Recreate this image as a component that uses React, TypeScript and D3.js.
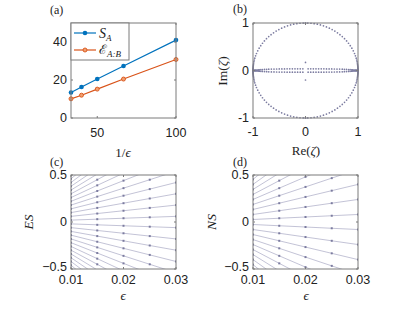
import React from "react";
import * as d3 from "d3";

// ---------- data ----------
const invEps = [33.33, 40, 50, 66.67, 100];
const sA = [13.4, 16.3, 20.5, 27.4, 41.0];
const eAB = [10.1, 12.0, 15.2, 20.5, 30.8];
const aXTicks = [50, 100];
const aYTicks = [0, 20, 40];

// (b) spectrum: unit-circle angles (deg, upper half; lower half mirrored)
const circleAngles = [0.2, 0.6, 1.1, 1.7, 2.4, 3.2, 4.1, 5.1, 6.2, 7.5, 9, 10.8, 12.8, 15, 18, 21, 24.5, 28, 31.5, 35, 38.5, 42, 45.5, 49, 52.5, 56, 59.5, 63, 66.5, 70, 73.5, 77, 80.5, 84, 87.5, 90];
// lens rows near the real axis (positive half; mirrored)
const lensX = [0.05, 0.1, 0.15, 0.2, 0.25, 0.3, 0.35, 0.4, 0.45, 0.5, 0.55, 0.6, 0.65, 0.7, 0.74, 0.78, 0.82, 0.85, 0.88, 0.9, 0.92, 0.94, 0.955, 0.97, 0.98, 0.99];
const lensY = [0.035, 0.035, 0.035, 0.035, 0.035, 0.035, 0.035, 0.034, 0.034, 0.033, 0.032, 0.031, 0.029, 0.027, 0.025, 0.022, 0.019, 0.017, 0.014, 0.012, 0.01, 0.008, 0.006, 0.004, 0.003, 0.002];
const axisDotsY = [0.17, -0.2];
const bTicks = [-1, 0, 1];

// (c),(d)
const epsVals = [0.01, 0.015, 0.02, 0.025, 0.03];
const esAt003 = [0.06, 0.18, 0.3, 0.42, 0.54, 0.66, 0.78, 0.9, 1.02, 1.14, 1.26, 1.38, 1.5];
const nsAt003 = [0.08, 0.24, 0.4, 0.56, 0.72, 0.88, 1.04, 1.2, 1.36, 1.52];
const cdXTicks = [0.01, 0.02, 0.03];
const cdYTicks = [-0.5, 0, 0.5];

// ---------- style ----------
const BLUE = "#0072BD";
const ORANGE = "#D95319";
const AXC = "#7a7a7a";
const SPEC = "#7c7ca0";
const LINEC = "#b4b4cc";
const TICKF = "'Liberation Sans', Arial, sans-serif";
const SERIF = "'Liberation Serif', 'DejaVu Serif', serif";

const A = { x0: 71, x1: 176, y0: 23, y1: 118 };
const B = { x0: 253, x1: 358, y0: 23, y1: 118 };
const C = { x0: 71, x1: 176, y0: 175, y1: 269 };
const D = { x0: 253, x1: 358, y0: 175, y1: 269 };

function Box({ r }: { r: typeof A }) {
  return <rect x={r.x0} y={r.y0} width={r.x1 - r.x0} height={r.y1 - r.y0} fill="none" stroke={AXC} strokeWidth={1} />;
}

function XTicks({ r, sx, ticks, fmt, dy }: any) {
  return (
    <g>
      {ticks.map((t: number) => (
        <g key={t}>
          <line x1={sx(t)} x2={sx(t)} y1={r.y1} y2={r.y1 - 2} stroke={AXC} />
          <line x1={sx(t)} x2={sx(t)} y1={r.y0} y2={r.y0 + 2} stroke={AXC} />
          <text x={sx(t)} y={r.y1 + dy} textAnchor="middle" fontFamily={TICKF} fontSize={12.5} fill="#222">{fmt(t)}</text>
        </g>
      ))}
    </g>
  );
}
function YTicks({ r, sy, ticks, fmt, off = 4 }: any) {
  return (
    <g>
      {ticks.map((t: number, i: number) => (
        <g key={t}>
          <line x1={r.x0} x2={r.x0 + 2} y1={sy(t)} y2={sy(t)} stroke={AXC} />
          <line x1={r.x1} x2={r.x1 - 2} y1={sy(t)} y2={sy(t)} stroke={AXC} />
          <text x={r.x0 - 4} y={sy(t) + (i === 0 ? off : 4)} textAnchor="end" fontFamily={TICKF} fontSize={12.5} fill="#222">{fmt(t)}</text>
        </g>
      ))}
    </g>
  );
}

export default function App() {
  // panel a
  const ax = d3.scaleLinear().domain([33.33, 100]).range([A.x0, A.x1]);
  const ay = d3.scaleLinear().domain([0, 50]).range([A.y1, A.y0]);
  const lineA = d3.line<number>().x((_, i) => ax(invEps[i])).y((d) => ay(d));

  // panel b
  const bx = d3.scaleLinear().domain([-1, 1]).range([B.x0, B.x1]);
  const by = d3.scaleLinear().domain([-1, 1]).range([B.y1, B.y0]);
  const specPts: [number, number][] = [];
  circleAngles.forEach((a) => {
    const rad = (a * Math.PI) / 180;
    const c = Math.cos(rad), s = Math.sin(rad);
    specPts.push([c, s], [-c, s], [c, -s], [-c, -s]);
  });
  lensX.forEach((x, i) => {
    const y = lensY[i];
    specPts.push([x, y], [-x, y], [x, -y], [-x, -y]);
  });
  axisDotsY.forEach((y) => specPts.push([0, y]));

  // panels c,d
  const cx = d3.scaleLinear().domain([0.01, 0.03]).range([C.x0, C.x1]);
  const cy = d3.scaleLinear().domain([-0.5, 0.5]).range([C.y1, C.y0]);
  const dx = d3.scaleLinear().domain([0.01, 0.03]).range([D.x0, D.x1]);
  const dy = d3.scaleLinear().domain([-0.5, 0.5]).range([D.y1, D.y0]);

  const fan = (levels: number[], sx: any, sy: any, id: string) => {
    const all = levels.flatMap((v) => [v, -v]);
    const ln = d3.line<number>().x((_, i) => sx(epsVals[i])).y((d) => sy(d));
    return (
      <g clipPath={`url(#${id})`}>
        {all.map((v, k) => {
          const ys = epsVals.map((e) => (v * e) / 0.03);
          return (
            <g key={k}>
              <path d={ln(ys) || ""} fill="none" stroke={LINEC} strokeWidth={0.8} />
              {ys.map((y, i) =>
                Math.abs(y) <= 0.505 ? <rect key={i} x={sx(epsVals[i]) - 1} y={sy(y) - 1} width={2} height={2} fill={SPEC} /> : null
              )}
            </g>
          );
        })}
      </g>
    );
  };

  const f2 = (t: number) => d3.format(".2f")(t);
  const fg = (t: number) => (t === 0 ? "0" : d3.format(".1f")(t));

  return (
    <svg width={415} height={319} style={{ position: "absolute", left: 0, top: 0, background: "#fff" }}>
      <defs>
        <clipPath id="clipC"><rect x={C.x0} y={C.y0} width={C.x1 - C.x0} height={C.y1 - C.y0} /></clipPath>
        <clipPath id="clipD"><rect x={D.x0} y={D.y0} width={D.x1 - D.x0} height={D.y1 - D.y0} /></clipPath>
      </defs>

      {/* panel a */}
      <text x={50} y={14} fontFamily={SERIF} fontSize={12} fill="#222">(a)</text>
      <path d={lineA(sA) || ""} fill="none" stroke={BLUE} strokeWidth={1.2} />
      <path d={lineA(eAB) || ""} fill="none" stroke={ORANGE} strokeWidth={1.2} />
      {sA.map((v, i) => <circle key={"s" + i} cx={ax(invEps[i])} cy={ay(v)} r={2.3} fill={BLUE} />)}
      {eAB.map((v, i) => <circle key={"e" + i} cx={ax(invEps[i])} cy={ay(v)} r={2} fill="#f0a070" stroke={ORANGE} strokeWidth={0.9} />)}
      <Box r={A} />
      <XTicks r={A} sx={ax} ticks={aXTicks} fmt={(t: number) => String(t)} dy={19} />
      <YTicks r={A} sy={ay} ticks={aYTicks} fmt={(t: number) => String(t)} />
      <rect x={71} y={23} width={58} height={37} fill="#fff" stroke={AXC} strokeWidth={1} />
      <line x1={74} x2={96} y1={33} y2={33} stroke={BLUE} strokeWidth={1.2} />
      <circle cx={85} cy={33} r={2.3} fill={BLUE} />
      <text x={99} y={38} fontFamily={SERIF} fontSize={14} fontStyle="italic" fill="#222">S<tspan fontSize={9} dy={3}>A</tspan></text>
      <line x1={74} x2={96} y1={50} y2={50} stroke={ORANGE} strokeWidth={1.2} />
      <circle cx={85} cy={50} r={2} fill="#f0a070" stroke={ORANGE} strokeWidth={0.9} />
      <text x={99} y={54} fontFamily={SERIF} fontSize={13} fill="#222">ℰ<tspan fontSize={9} dy={3} fontStyle="italic">A:B</tspan></text>
      <text x={123} y={157} textAnchor="middle" fontFamily={SERIF} fontSize={13} fill="#222">1/<tspan fontStyle="italic">ϵ</tspan></text>

      {/* panel b */}
      <text x={233} y={13} fontFamily={SERIF} fontSize={12} fill="#222">(b)</text>
      {specPts.map((p, i) => <circle key={i} cx={bx(p[0])} cy={by(p[1])} r={0.85} fill={SPEC} />)}
      <Box r={B} />
      <XTicks r={B} sx={bx} ticks={bTicks} fmt={(t: number) => String(t)} dy={18} />
      <YTicks r={B} sy={by} ticks={bTicks} fmt={(t: number) => String(t)} />
      <text x={306} y={155} textAnchor="middle" fontFamily={SERIF} fontSize={13} fill="#222">Re(<tspan fontStyle="italic">ζ</tspan>)</text>
      <text transform="translate(227,71) rotate(-90)" textAnchor="middle" fontFamily={SERIF} fontSize={13.5} fill="#222">Im(<tspan fontStyle="italic">ζ</tspan>)</text>

      {/* panel c */}
      <text x={50} y={166} fontFamily={SERIF} fontSize={12} fill="#222">(c)</text>
      {fan(esAt003, cx, cy, "clipC")}
      <Box r={C} />
      <XTicks r={C} sx={cx} ticks={cdXTicks} fmt={f2} dy={15} />
      <YTicks r={C} sy={cy} ticks={cdYTicks} fmt={fg} off={2} />
      <text x={123} y={300} textAnchor="middle" fontFamily={SERIF} fontSize={13} fontStyle="italic" fill="#222">ϵ</text>
      <text transform="translate(33,222) rotate(-90)" textAnchor="middle" fontFamily={SERIF} fontSize={13.5} fontStyle="italic" fill="#222">ES</text>

      {/* panel d */}
      <text x={233} y={166} fontFamily={SERIF} fontSize={12} fill="#222">(d)</text>
      {fan(nsAt003, dx, dy, "clipD")}
      <Box r={D} />
      <XTicks r={D} sx={dx} ticks={cdXTicks} fmt={f2} dy={15} />
      <YTicks r={D} sy={dy} ticks={cdYTicks} fmt={fg} off={2} />
      <text x={306} y={300} textAnchor="middle" fontFamily={SERIF} fontSize={13} fontStyle="italic" fill="#222">ϵ</text>
      <text transform="translate(216,222) rotate(-90)" textAnchor="middle" fontFamily={SERIF} fontSize={13.5} fontStyle="italic" fill="#222">NS</text>
    </svg>
  );
}
